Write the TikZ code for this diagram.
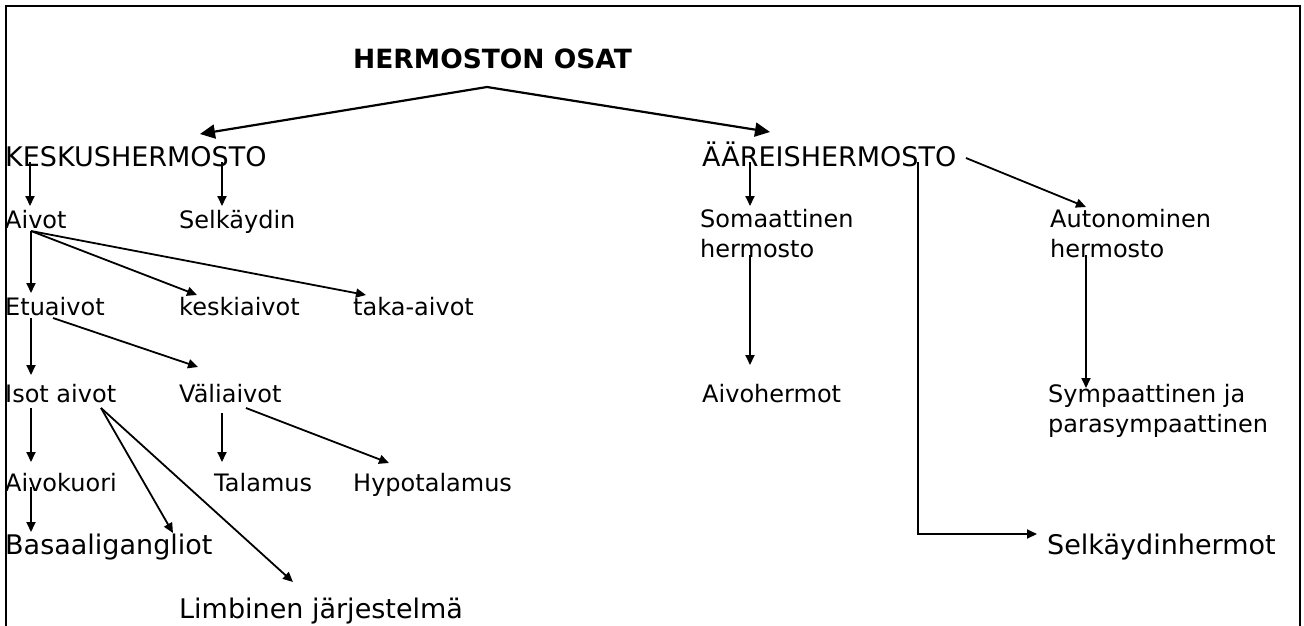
\documentclass[tikz,border=0pt]{standalone}
\usepackage{fontspec}
\setmainfont{DejaVu Sans}
\usetikzlibrary{arrows.meta}

\tikzset{
	lbl/.style={anchor=base west, inner sep=0pt, font=\fontsize{24}{29.5}\selectfont},
	biglbl/.style={lbl, font=\fontsize{27}{32}\selectfont},
	arr/.style={-{Triangle[length=10pt,width=9pt]}, line width=1.8pt},
	bigarr/.style={-{Triangle[length=15pt,width=14pt]}, line width=2.2pt}
}

\begin{document}
\begin{tikzpicture}[x=1pt,y=-1pt]
		\useasboundingbox (0,0) rectangle (1304,625);
		\draw[line width=2.2pt] (6,630) -- (6,6) -- (1300,6) -- (1300,630);

		\node[biglbl, font=\bfseries\fontsize{26.5}{32}\selectfont] (title) at (353,68) {HERMOSTON OSAT};
		\coordinate (apex) at (487,87);

		\node[biglbl] (kesk) at (5,166) {KESKUSHERMOSTO};
		\node[biglbl] (aare) at (702,166) {ÄÄREISHERMOSTO};
		\draw[bigarr] (apex) -- ([xshift=195pt,yshift=32pt]kesk.base west);
		\draw[bigarr] (apex) -- ([xshift=68pt,yshift=34pt]aare.base west);

		\node[lbl] (aivot) at (5,228) {Aivot};
		\node[lbl] (selk) at (179,228) {Selkäydin};
		\draw[arr] ([xshift=25pt,yshift=4pt]kesk.base west) -- ([xshift=25pt,yshift=22pt]aivot.base west);
		\draw[arr] ([xshift=217pt,yshift=4pt]kesk.base west) -- ([xshift=43pt,yshift=22pt]selk.base west);

		\node[lbl] (etu) at (5,315) {Etuaivot};
		\node[lbl] (keski) at (179,315) {keskiaivot};
		\node[lbl] (taka) at (353,315) {taka-aivot};
		\draw[arr] ([xshift=26pt,yshift=-3pt]aivot.base west) -- ([xshift=26pt,yshift=22pt]etu.base west);
		\draw[arr] ([xshift=26pt,yshift=-3pt]aivot.base west) -- ([xshift=18pt,yshift=20pt]keski.base west);
		\draw[arr] ([xshift=26pt,yshift=-3pt]aivot.base west) -- ([xshift=13pt,yshift=20pt]taka.base west);

		\node[lbl] (isot) at (5,402) {Isot aivot};
		\node[lbl] (vali) at (179,402) {Väliaivot};
		\draw[arr] ([xshift=26pt,yshift=-3pt]etu.base west) -- ([xshift=26pt,yshift=27pt]isot.base west);
		\draw[arr] ([xshift=48pt,yshift=-3pt]etu.base west) -- ([xshift=19pt,yshift=35pt]vali.base west);

		\node[lbl] (kuori) at (5,491) {Aivokuori};
		\node[lbl] (tal) at (214,491) {Talamus};
		\node[lbl] (hypo) at (353,491) {Hypotalamus};
		\node[biglbl] (basa) at (5,554) {Basaaligangliot};
		\node[biglbl] (limb) at (179,618) {Limbinen järjestelmä};
		\draw[arr] ([xshift=26pt,yshift=-6pt]isot.base west) -- ([xshift=26pt,yshift=29pt]kuori.base west);
		\draw[arr] ([xshift=96pt,yshift=-6pt]isot.base west) -- ([xshift=168pt,yshift=21pt]basa.base west);
		\draw[arr] ([xshift=96pt,yshift=-6pt]isot.base west) -- ([xshift=114pt,yshift=36pt]limb.base west);
		\draw[arr] ([xshift=43pt,yshift=-11pt]vali.base west) -- ([xshift=8pt,yshift=29pt]tal.base west);
		\draw[arr] ([xshift=67pt,yshift=-6pt]vali.base west) -- ([xshift=36pt,yshift=28pt]hypo.base west);
		\draw[arr] ([xshift=26pt,yshift=4pt]kuori.base west) -- ([xshift=26pt,yshift=22pt]basa.base west);

		\node[lbl, align=left] (soma) at (700,257) {Somaattinen\\hermosto};
		\node[lbl, align=left] (auto) at (1050,257) {Autonominen\\hermosto};
		\node[lbl] (aivoh) at (702,402) {Aivohermot};
		\node[lbl, align=left] (symp) at (1048,432) {Sympaattinen ja\\parasympaattinen};
		\node[biglbl] (selkh) at (1047,554) {Selkäydinhermot};
		\draw[arr] ([xshift=48pt,yshift=4pt]aare.base west) -- ([xshift=50pt,yshift=51pt]soma.base west);
		\draw[arr] ([xshift=264pt,yshift=8pt]aare.base west) -- ([xshift=36pt,yshift=50pt]auto.base west);
		\draw[arr] ([xshift=50pt,yshift=2pt]soma.base west) -- ([xshift=48pt,yshift=37pt]aivoh.base west);
		\draw[arr] ([xshift=36pt,yshift=2pt]auto.base west) -- ([xshift=38pt,yshift=44pt]symp.base west);
		\draw[arr] ([xshift=216pt,yshift=4pt]aare.base west) |- ([xshift=-10pt,yshift=20pt]selkh.base west);

	\end{tikzpicture}
\end{document}
